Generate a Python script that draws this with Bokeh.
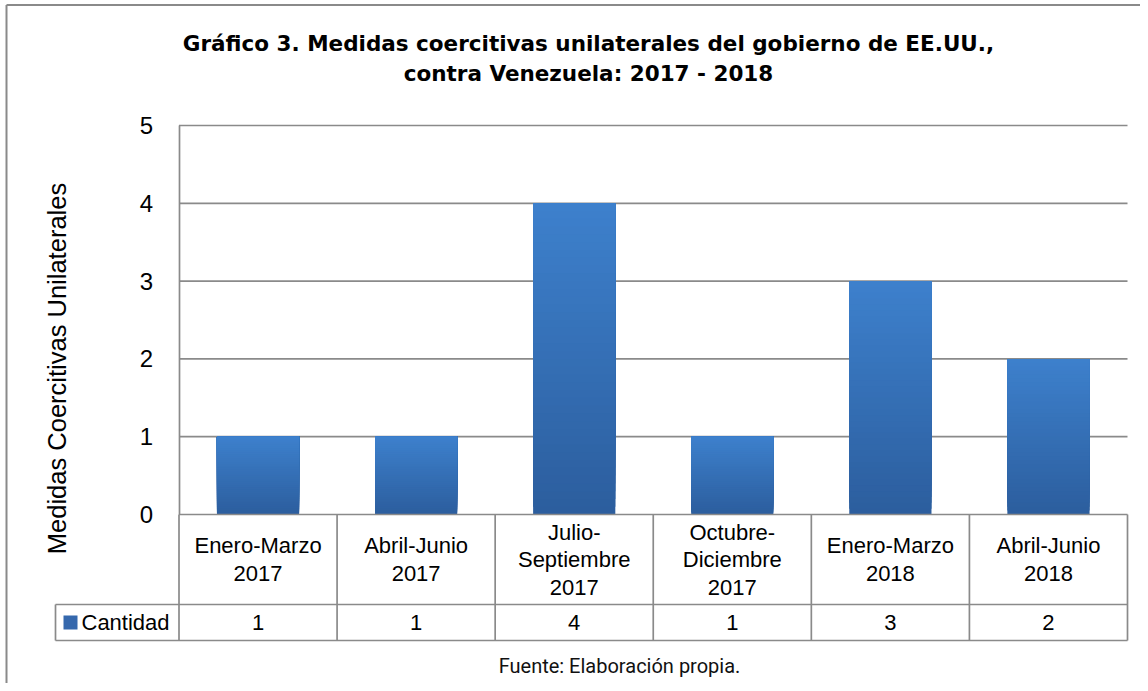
import math
from bokeh.plotting import figure
from bokeh.models import Range1d, LinearAxis, FixedTicker
from bokeh.core.properties import value
from bokeh.embed import file_html
from bokeh.resources import INLINE

# ---------------- data ----------------
TITLE_LINES = ["Gráfico 3. Medidas coercitivas unilaterales del gobierno de EE.UU.,",
               "contra Venezuela: 2017 - 2018"]
CATEGORIES = ["Enero-Marzo\n2017", "Abril-Junio\n2017", "Julio-\nSeptiembre\n2017",
              "Octubre-\nDiciembre\n2017", "Enero-Marzo\n2018", "Abril-Junio\n2018"]
CANTIDAD = [1, 1, 4, 1, 3, 2]
Y_TICKS = [0, 1, 2, 3, 4, 5]
SERIES_NAME = "Cantidad"
Y_LABEL = "Medidas Coercitivas Unilaterales"
SOURCE_NOTE = "Fuente: Elaboración propia."

# ---------------- layout (pixel positions in the picture) ----------------
W, H = 1140, 683
OX, OY = 0, 0
PL, PR, PT, PB = 178.5, 1127.0, 125.0, 514.0
ROW1_B, ROW2_B, LEG_L = 604.0, 640.0, 55.0
N = len(CATEGORIES)
YMAX = Y_TICKS[-1]
XU = (PR - PL) / N
YU = (PB - PT) / YMAX


def X(px):
    return (px - PL) / XU


def Y(py):
    return (PB - py) / YU


GRID_C = "#8a8a8a"
TOP_C = (61, 128, 204)
BOT_C = (44, 94, 158)
BAR_W = 0.52
FONT = value("Liberation Sans")

p = figure(width=W, height=H, x_range=Range1d(X(OX), X(OX + W)),
           y_range=Range1d(Y(OY + H), Y(OY)), x_axis_type=None, y_axis_type=None,
           toolbar_location=None, output_backend="svg", min_border=0,
           outline_line_color=None, background_fill_color="white",
           border_fill_color="white")
p.grid.visible = False

# outer chart border (left + top)
p.segment(x0=[X(6), X(6)], y0=[Y(4.5), Y(4.5)], x1=[X(6), X(OX + W + 5)],
          y1=[Y(OY + H + 5), Y(4.5)], line_color="#8a8a8a", line_width=2)

# gridlines
p.segment(x0=[0] * (len(Y_TICKS) - 1), x1=[N] * (len(Y_TICKS) - 1),
          y0=Y_TICKS[1:], y1=Y_TICKS[1:], line_color=GRID_C, line_width=1.7)

# bars with vertical gradient
NS = 40
L, R, B, T, C = [], [], [], [], []
for i, v in enumerate(CANTIDAD):
    for k in range(NS):
        f = k / (NS - 1)
        col = tuple(int(round(BOT_C[j] + (TOP_C[j] - BOT_C[j]) * f)) for j in range(3))
        L.append(i + 0.5 - BAR_W / 2)
        R.append(i + 0.5 + BAR_W / 2)
        B.append(v * k / NS)
        T.append(v)
        C.append("#%02x%02x%02x" % col)
p.quad(left=L, right=R, bottom=B, top=T, fill_color=C, line_color=None)

# y axis
ax = LinearAxis(fixed_location=0, ticker=FixedTicker(ticks=Y_TICKS), bounds=(0, YMAX))
ax.axis_line_color = GRID_C
ax.axis_line_width = 1.7
ax.major_tick_line_color = None
ax.minor_tick_line_color = None
ax.major_label_text_font = "Liberation Sans"
ax.major_label_text_font_size = "24px"
ax.major_label_text_color = "#000000"
ax.major_label_standoff = 20
p.add_layout(ax, "left")

# y axis title
p.text(x=[X(56)], y=[Y(368)], text=[Y_LABEL], angle=math.pi / 2, text_align="center",
       text_baseline="middle", text_font=FONT, text_font_size="25.5px",
       text_color="#000000")

# data table lines
hx0 = [0, X(LEG_L), X(LEG_L)]
hx1 = [N, N, N]
hy = [0, Y(ROW1_B), Y(ROW2_B)]
p.segment(x0=hx0, x1=hx1, y0=hy, y1=hy, line_color=GRID_C, line_width=1.7)
vx = list(range(N + 1)) + [X(LEG_L)]
vy0 = [0] * (N + 1) + [Y(ROW1_B)]
p.segment(x0=vx, x1=vx, y0=vy0, y1=[Y(ROW2_B)] * (N + 2), line_color=GRID_C, line_width=1.7)

xc = [i + 0.5 for i in range(N)]
p.text(x=xc, y=[Y((PB + ROW1_B) / 2)] * N, text=CATEGORIES, text_align="center",
       text_baseline="middle", text_font=FONT, text_font_size="22px",
       text_line_height=1.1, text_color="#000000")
p.text(x=xc, y=[Y((ROW1_B + ROW2_B) / 2)] * N, text=[str(v) for v in CANTIDAD],
       text_align="center", text_baseline="middle", text_font=FONT,
       text_font_size="22px", text_color="#000000")

# legend key in table
p.quad(left=[X(63)], right=[X(77)], bottom=[Y(629)], top=[Y(615)],
       fill_color="#3568ad", line_color=None)
p.text(x=[X(81)], y=[Y(622)], text=[SERIES_NAME], text_align="left",
       text_baseline="middle", text_font=FONT, text_font_size="22px",
       text_color="#000000")

# title
p.text(x=[X(588)] * 2, y=[Y(43), Y(73)], text=TITLE_LINES, text_align="center",
       text_baseline="middle", text_font=value("DejaVu Sans"), text_font_style="bold",
       text_font_size="21.5px", text_color="#000000")

# source note
p.text(x=[X(619)], y=[Y(665)], text=[SOURCE_NOTE], text_align="center",
       text_baseline="middle", text_font=value("Roboto"), text_font_size="20px",
       text_color="#111111")

open("out.html", "w").write(file_html(p, INLINE))
